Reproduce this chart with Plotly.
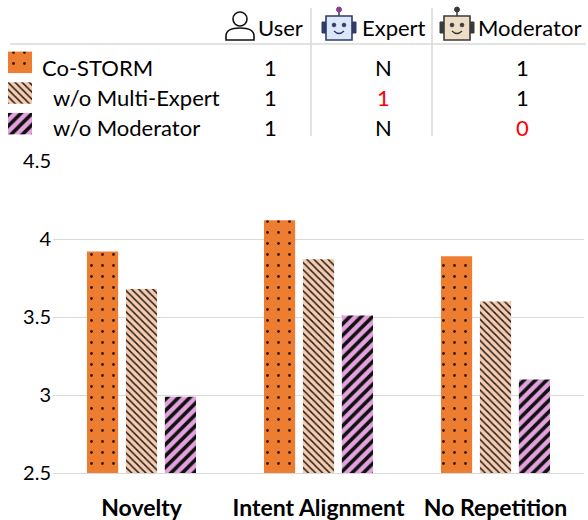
import plotly.graph_objects as go

# data
metrics = ['Novelty', 'Intent Alignment', 'No Repetition']
variants = ['Co-STORM', 'w/o Multi-Expert', 'w/o Moderator']
costorm = [3.92, 4.12, 3.89]
no_multi_expert = [3.68, 3.87, 3.60]
no_moderator = [2.99, 3.51, 3.10]

# table in the header: User / Expert / Moderator counts
roles = ['User', 'Expert', 'Moderator']
role_counts = [['1', 'N', '1'], ['1', '1', '1'], ['1', 'N', '0']]
changed = [[False, False, False], [False, True, False], [False, False, True]]

W, H = 588, 520
FONT = 'Lato'


def px(x):
    return x / W


def py(y):
    return (H - y) / H


styles = [
    dict(bgcolor='#ED7D31', fgcolor='#3a1500', shape='.', size=11, solidity=0.05),
    dict(bgcolor='#F8CBAD', fgcolor='#222222', shape='\\', size=5, solidity=0.3),
    dict(bgcolor='#E4A2DF', fgcolor='#111111', shape='/', size=8, solidity=0.45),
]

fig = go.Figure()
series = [costorm, no_multi_expert, no_moderator]
for name, vals, st in zip(variants, series, styles):
    fig.add_trace(go.Bar(
        x=metrics, y=vals, name=name, showlegend=False,
        marker=dict(color=st['bgcolor'], line_width=0,
                    pattern=dict(shape=st['shape'], fgcolor=st['fgcolor'],
                                 bgcolor=st['bgcolor'], size=st['size'],
                                 solidity=st['solidity'], fillmode='replace')),
    ))

# legend swatches as small bars on their own axis
for i, (name, st) in enumerate(zip(variants, styles)):
    fig.add_trace(go.Bar(
        x=[1], y=[i], orientation='h', width=0.7, showlegend=False,
        xaxis='x2', yaxis='y2', hoverinfo='skip',
        marker=dict(color=st['bgcolor'], line_width=0,
                    pattern=dict(shape=st['shape'], fgcolor=st['fgcolor'],
                                 bgcolor=st['bgcolor'], size=st['size'],
                                 solidity=st['solidity'], fillmode='replace')),
    ))

annotations = []
row_y = [67, 97, 127]
label_x = [40, 51, 51]
for i, name in enumerate(variants):
    annotations.append(dict(x=px(label_x[i]), y=py(row_y[i]), text=name, xanchor='left',
                            yanchor='middle', font=dict(size=22, color='#000000')))
    for j, val in enumerate(role_counts[i]):
        annotations.append(dict(x=px([270, 383, 522][j]), y=py(row_y[i]), text=val,
                                xanchor='center', yanchor='middle',
                                font=dict(size=22, color='#FF0000' if changed[i][j] else '#000000')))

role_x = [256, 360, 476]
for j, r in enumerate(roles):
    annotations.append(dict(x=px(role_x[j]), y=py(27), text=r, xanchor='left', yanchor='middle',
                            font=dict(size=22, color='#000000')))
for a in annotations:
    a.update(xref='paper', yref='paper', showarrow=False)

shapes = []
grey = '#D9D9D9'
shapes.append(dict(type='line', x0=px(10), x1=px(586), y0=py(44), y1=py(44),
                   line=dict(color=grey, width=1.5)))
for xv in [311, 432]:
    shapes.append(dict(type='line', x0=px(xv), x1=px(xv), y0=py(8), y1=py(136),
                       line=dict(color=grey, width=1.5)))

# user icon
shapes.append(dict(type='circle', x0=px(233), x1=px(247), y0=py(26), y1=py(12),
                   line=dict(color='#111111', width=1.6)))
shapes.append(dict(type='path',
                   path=f'M {px(226)},{py(40)} L {px(226)},{py(36)} Q {px(226)},{py(28)} {px(240)},{py(28)} '
                        f'Q {px(254)},{py(28)} {px(254)},{py(36)} L {px(254)},{py(40)} Z',
                   line=dict(color='#111111', width=1.6), fillcolor='rgba(0,0,0,0)'))


def robot(x0, face, dark, ball):
    cx = x0 + 17
    out = []
    out.append(dict(type='line', x0=px(cx), x1=px(cx), y0=py(11), y1=py(16), line=dict(color=dark, width=1.5)))
    out.append(dict(type='circle', x0=px(cx - 2.5), x1=px(cx + 2.5), y0=py(12), y1=py(7),
                    fillcolor=ball, line=dict(color=ball, width=1)))
    out.append(dict(type='rect', x0=px(x0), x1=px(x0 + 5), y0=py(33), y1=py(22),
                    fillcolor=dark, line=dict(color=dark, width=1)))
    out.append(dict(type='rect', x0=px(x0 + 29), x1=px(x0 + 34), y0=py(33), y1=py(22),
                    fillcolor=dark, line=dict(color=dark, width=1)))
    out.append(dict(type='rect', x0=px(x0 + 4), x1=px(x0 + 30), y0=py(40), y1=py(16),
                    fillcolor=face, line=dict(color=dark, width=1.6)))
    for ex in [cx - 5, cx + 5]:
        out.append(dict(type='circle', x0=px(ex - 2), x1=px(ex + 2), y0=py(27), y1=py(23),
                        fillcolor=dark, line=dict(color=dark, width=0.5)))
    out.append(dict(type='path',
                    path=f'M {px(cx - 5)},{py(31)} Q {px(cx)},{py(36)} {px(cx + 5)},{py(31)}',
                    line=dict(color=dark, width=1.4), fillcolor='rgba(0,0,0,0)'))
    return out


shapes += robot(322, '#DCE7F8', '#2E3B6B', '#8E3A8E')
shapes += robot(440, '#EDDCC6', '#3A3A3A', '#3A3A3A')
for s in shapes:
    s.update(xref='paper', yref='paper')

fig.update_layout(
    width=W, height=H,
    margin=dict(l=0, r=0, t=0, b=0),
    paper_bgcolor='white', plot_bgcolor='white',
    font=dict(family=FONT, color='#000000'),
    barmode='group', bargap=0.34, bargroupgap=0.2,
    xaxis=dict(domain=[px(53), px(584)], showgrid=False, showline=True, linecolor=grey,
               linewidth=1, ticks='', automargin=False, ticklabelstandoff=14,
               tickfont=dict(size=23, family=FONT, weight='bold')),
    yaxis=dict(domain=[py(473.3), py(161)], range=[2.5, 4.5], dtick=0.5, showgrid=True,
               gridcolor=grey, gridwidth=1, zeroline=False, showline=False, ticks='',
               automargin=False, ticklabelstandoff=1, tickfont=dict(size=20),
               tickformat='~g'),
    xaxis2=dict(domain=[px(8), px(32)], range=[0, 1], visible=False, fixedrange=True),
    yaxis2=dict(domain=[py(139), py(47)], range=[2.5, -0.5], visible=False, fixedrange=True),
    annotations=annotations, shapes=shapes,
)

fig.write_html("out.html", config={'displayModeBar': False})

# drop the default page margin so the figure fills the window
with open("out.html") as f:
    html = f.read()
html = html.replace("<body>", '<body style="margin:0;overflow:hidden">', 1)
with open("out.html", "w") as f:
    f.write(html)
